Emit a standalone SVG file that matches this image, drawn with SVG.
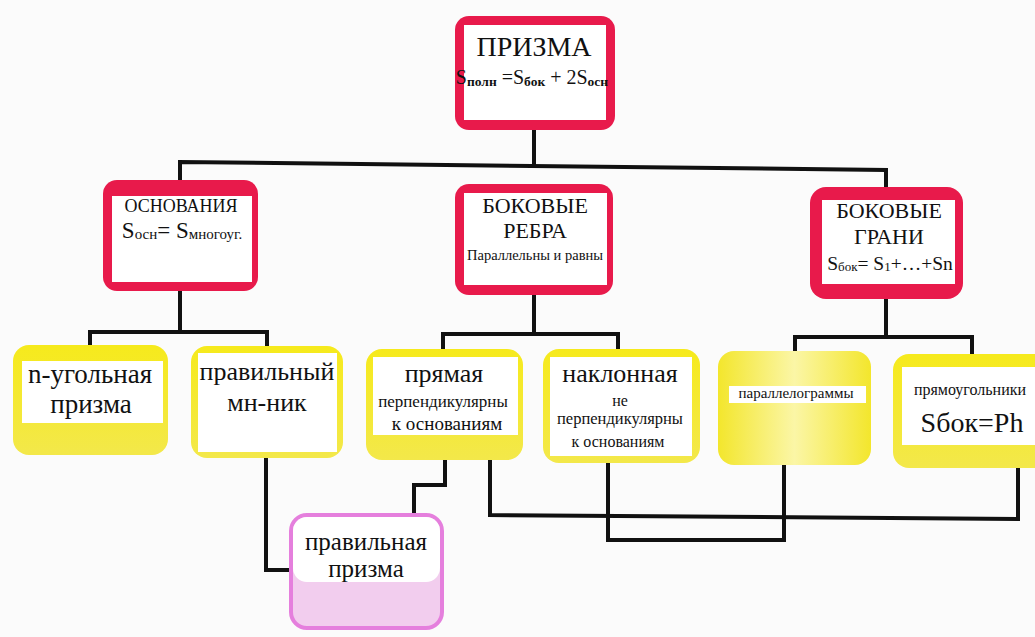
<svg xmlns="http://www.w3.org/2000/svg" width="1035" height="637" viewBox="0 0 1035 637">
<defs>
<linearGradient id="gPar" x1="0" y1="0" x2="1" y2="0">
<stop offset="0" stop-color="#f3e62c"/>
<stop offset="0.5" stop-color="#fbf6a6"/>
<stop offset="1" stop-color="#f3e62c"/>
</linearGradient>
<linearGradient id="gYel" x1="0" y1="0" x2="0" y2="1">
<stop offset="0" stop-color="#f6ea1c"/>
<stop offset="1" stop-color="#f3e84a"/>
</linearGradient>
</defs>
<style>
.red{fill:#e81a4b}
.yel{fill:url(#gYel)}
.pink{fill:#f2cdee;stroke:#e57fdd;stroke-width:4}
.in{fill:#ffffff}
.t{font-family:'Liberation Serif','Times New Roman',serif;fill:#111;text-anchor:middle}
.c{fill:none;stroke:#111;stroke-width:4;stroke-linejoin:miter}
</style>
<rect width="1035" height="637" fill="#fbfbfb"/>
<g id="connectors">
<path class="c" d="M534,130 V166"/>
<path class="c" d="M180,184 V162 L886,170 V189"/>
<path class="c" d="M180,290 V332"/>
<path class="c" d="M90,346 V332 H267 V347"/>
<path class="c" d="M534,295 V334"/>
<path class="c" d="M443,350 V334 H618 V350"/>
<path class="c" d="M886,299 V337"/>
<path class="c" d="M795,352 V337 H972 V355"/>
<path class="c" d="M266,457 V570 H291"/>
<path class="c" d="M445,459 V485 H414 V515"/>
<path class="c" d="M490,459 V515 L1018,519 V466"/>
<path class="c" d="M608,462 V540 H784 V464"/>
</g>
<g id="prizma">
<rect class="red" x="455" y="16" width="160" height="114" rx="14"/>
<rect class="in" x="464" y="25" width="142" height="95"/>
<text class="t" x="534" y="56" font-size="28">ПРИЗМА</text>
<text class="t" x="532" y="84" font-size="20">S<tspan font-size="13.5" font-weight="bold" dy="2">полн</tspan><tspan dy="-2"> =S</tspan><tspan font-size="13.5" font-weight="bold" dy="2">бок</tspan><tspan dy="-2"> + 2S</tspan><tspan font-size="13.5" font-weight="bold" dy="2">осн</tspan></text>
</g>
<g id="osnovaniya">
<rect class="red" x="103" y="180" width="155" height="111" rx="14"/>
<rect class="in" x="112" y="196" width="140" height="86"/>
<text class="t" x="181" y="212" font-size="18">ОСНОВАНИЯ</text>
<text class="t" x="182" y="238" font-size="23">S<tspan font-size="15" dy="1">осн</tspan><tspan dy="-1">= S</tspan><tspan font-size="15" dy="1">многоуг.</tspan></text>
</g>
<g id="rebra">
<rect class="red" x="455" y="184" width="158" height="111" rx="14"/>
<rect class="in" x="464" y="193" width="143" height="92"/>
<text class="t" x="535" y="213" font-size="22">БОКОВЫЕ</text>
<text class="t" x="535" y="238" font-size="22">РЕБРА</text>
<text class="t" x="535" y="260" font-size="14.5">Параллельны и равны</text>
</g>
<g id="grani">
<rect class="red" x="810" y="187" width="153" height="112" rx="16"/>
<rect class="in" x="822" y="200" width="133" height="84"/>
<text class="t" x="889" y="218" font-size="22">БОКОВЫЕ</text>
<text class="t" x="889" y="244" font-size="22">ГРАНИ</text>
<text class="t" x="890" y="270" font-size="19.5">S<tspan font-size="13" dy="1">бок</tspan><tspan dy="-1">= S</tspan><tspan font-size="13" dy="1">1</tspan><tspan dy="-1">+…+Sn</tspan></text>
</g>
<g id="n-ugolnaya">
<rect class="yel" x="13" y="345" width="155" height="110" rx="16"/>
<rect class="in" x="22" y="361" width="141" height="62"/>
<text class="t" x="90" y="383" font-size="27">n-угольная</text>
<text class="t" x="91" y="413" font-size="27">призма</text>
</g>
<g id="pravilny">
<rect class="yel" x="191" y="346" width="152" height="112" rx="16"/>
<rect class="in" x="198" y="353" width="139" height="99"/>
<text class="t" x="267" y="380" font-size="26">правильный</text>
<text class="t" x="267" y="411" font-size="26">мн-ник</text>
</g>
<g id="pryamaya">
<rect class="yel" x="366" y="349" width="157" height="111" rx="16"/>
<rect class="in" x="373" y="357" width="145" height="78"/>
<text class="t" x="444" y="382" font-size="26">прямая</text>
<text class="t" x="443" y="407" font-size="17">перпендикулярны</text>
<text class="t" x="447" y="430" font-size="19">к основаниям</text>
</g>
<g id="naklonnaya">
<rect class="yel" x="543" y="349" width="157" height="114" rx="16"/>
<rect class="in" x="550" y="357" width="142" height="99"/>
<text class="t" x="620" y="382" font-size="26">наклонная</text>
<text class="t" x="620" y="406" font-size="16">не</text>
<text class="t" x="620" y="424" font-size="16.5">перпендикулярны</text>
<text class="t" x="618" y="447" font-size="16">к основаниям</text>
</g>
<g id="parallelogrammy">
<rect fill="url(#gPar)" x="718" y="351" width="153" height="114" rx="16"/>
<rect class="in" x="729" y="386" width="137" height="17"/>
<text class="t" x="796" y="398" font-size="15">параллелограммы</text>
</g>
<g id="pryamougolniki">
<rect class="yel" x="893" y="354" width="160" height="114" rx="16"/>
<rect class="in" x="902" y="367" width="140" height="78"/>
<text class="t" x="970" y="395" font-size="16">прямоугольники</text>
<text class="t" x="972" y="432" font-size="28">Sбок=Ph</text>
</g>
<g id="pravilnaya-prizma">
<rect class="pink" x="291" y="515" width="151" height="113" rx="16"/>
<rect class="in" x="293" y="517" width="147" height="65" rx="14"/>
<text class="t" x="366" y="550" font-size="25">правильная</text>
<text class="t" x="366" y="577" font-size="25">призма</text>
</g>
</svg>
